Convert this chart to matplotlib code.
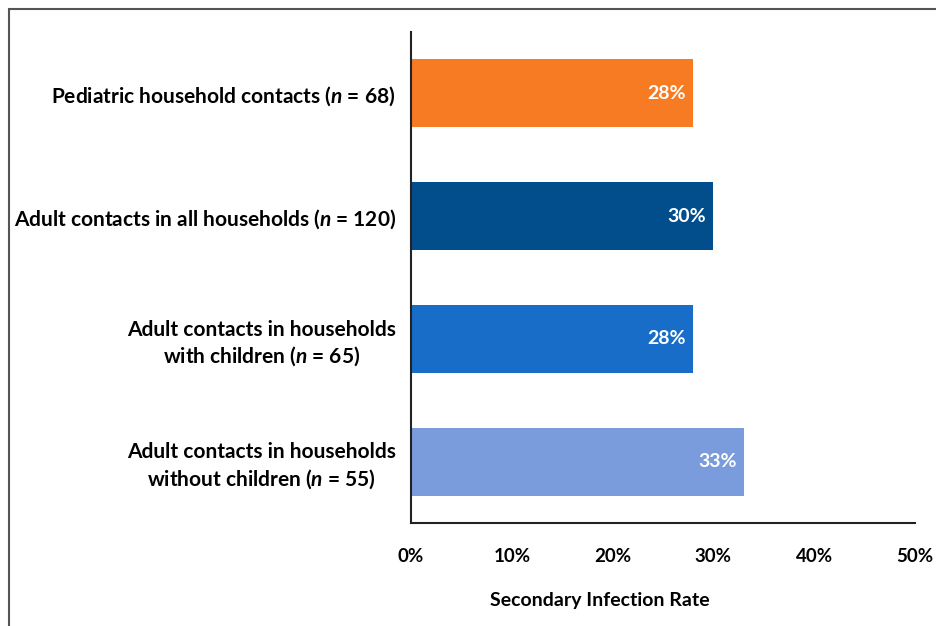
import matplotlib.pyplot as plt
from matplotlib.patches import Rectangle

plt.rcParams['font.family'] = ['Lato', 'DejaVu Sans']
plt.rcParams['mathtext.fontset'] = 'custom'
plt.rcParams['mathtext.it'] = 'Lato:italic:bold'
plt.rcParams['mathtext.rm'] = 'Lato:bold'

# data (top to bottom)
categories = [
    "Pediatric household contacts ($n$ = 68)",
    "Adult contacts in all households ($n$ = 120)",
    "Adult contacts in households\nwith children ($n$ = 65)",
    "Adult contacts in households\nwithout children ($n$ = 55)",
]
rates = [28, 30, 28, 33]
value_labels = ["28%", "30%", "28%", "33%"]
bar_colors = ["#F77B22", "#024D8C", "#176DC7", "#7A9CDC"]
x_ticks = [0, 10, 20, 30, 40, 50]
x_tick_labels = ["0%", "10%", "20%", "30%", "40%", "50%"]

fig = plt.figure(figsize=(9.36, 6.26), dpi=100)
ax = fig.add_axes([411 / 936, 1 - 523 / 626, 504 / 936, 491 / 626])

y = list(range(len(categories)))
bars = ax.barh(y, rates, height=0.555, color=bar_colors)

for b, lab in zip(bars, value_labels):
    ax.text(b.get_width() - 0.7, b.get_y() + b.get_height() / 2, lab,
            ha="right", va="center", color="white", fontsize=14, fontweight="bold")

ax.set_ylim(3.5, -0.5)
ax.set_xlim(0, 50)
ax.set_yticks(y)
ax.set_yticklabels(categories, fontsize=15, fontweight="bold", ha="right",
                   multialignment="center", linespacing=1.25)
ax.tick_params(axis="y", length=0, pad=11)
ax.set_xticks(x_ticks)
ax.set_xticklabels(x_tick_labels, fontsize=13.5, fontweight="bold")
ax.tick_params(axis="x", length=0, pad=18)

ax.set_xlabel("Secondary Infection Rate", fontsize=14, fontweight="bold")
ax.xaxis.set_label_coords(0.375, -0.14)

for s in ["top", "right"]:
    ax.spines[s].set_visible(False)
for s in ["left", "bottom"]:
    ax.spines[s].set_linewidth(1.5)
    ax.spines[s].set_color("#222222")

# outer frame (top and left edges visible)
fig.patches.append(Rectangle((9 / 936, -0.1), 1.2, 1 - 9 / 626 + 0.1,
                             transform=fig.transFigure, fill=False,
                             edgecolor="#555555", linewidth=1.5))

fig.savefig("out.png", dpi=100)
